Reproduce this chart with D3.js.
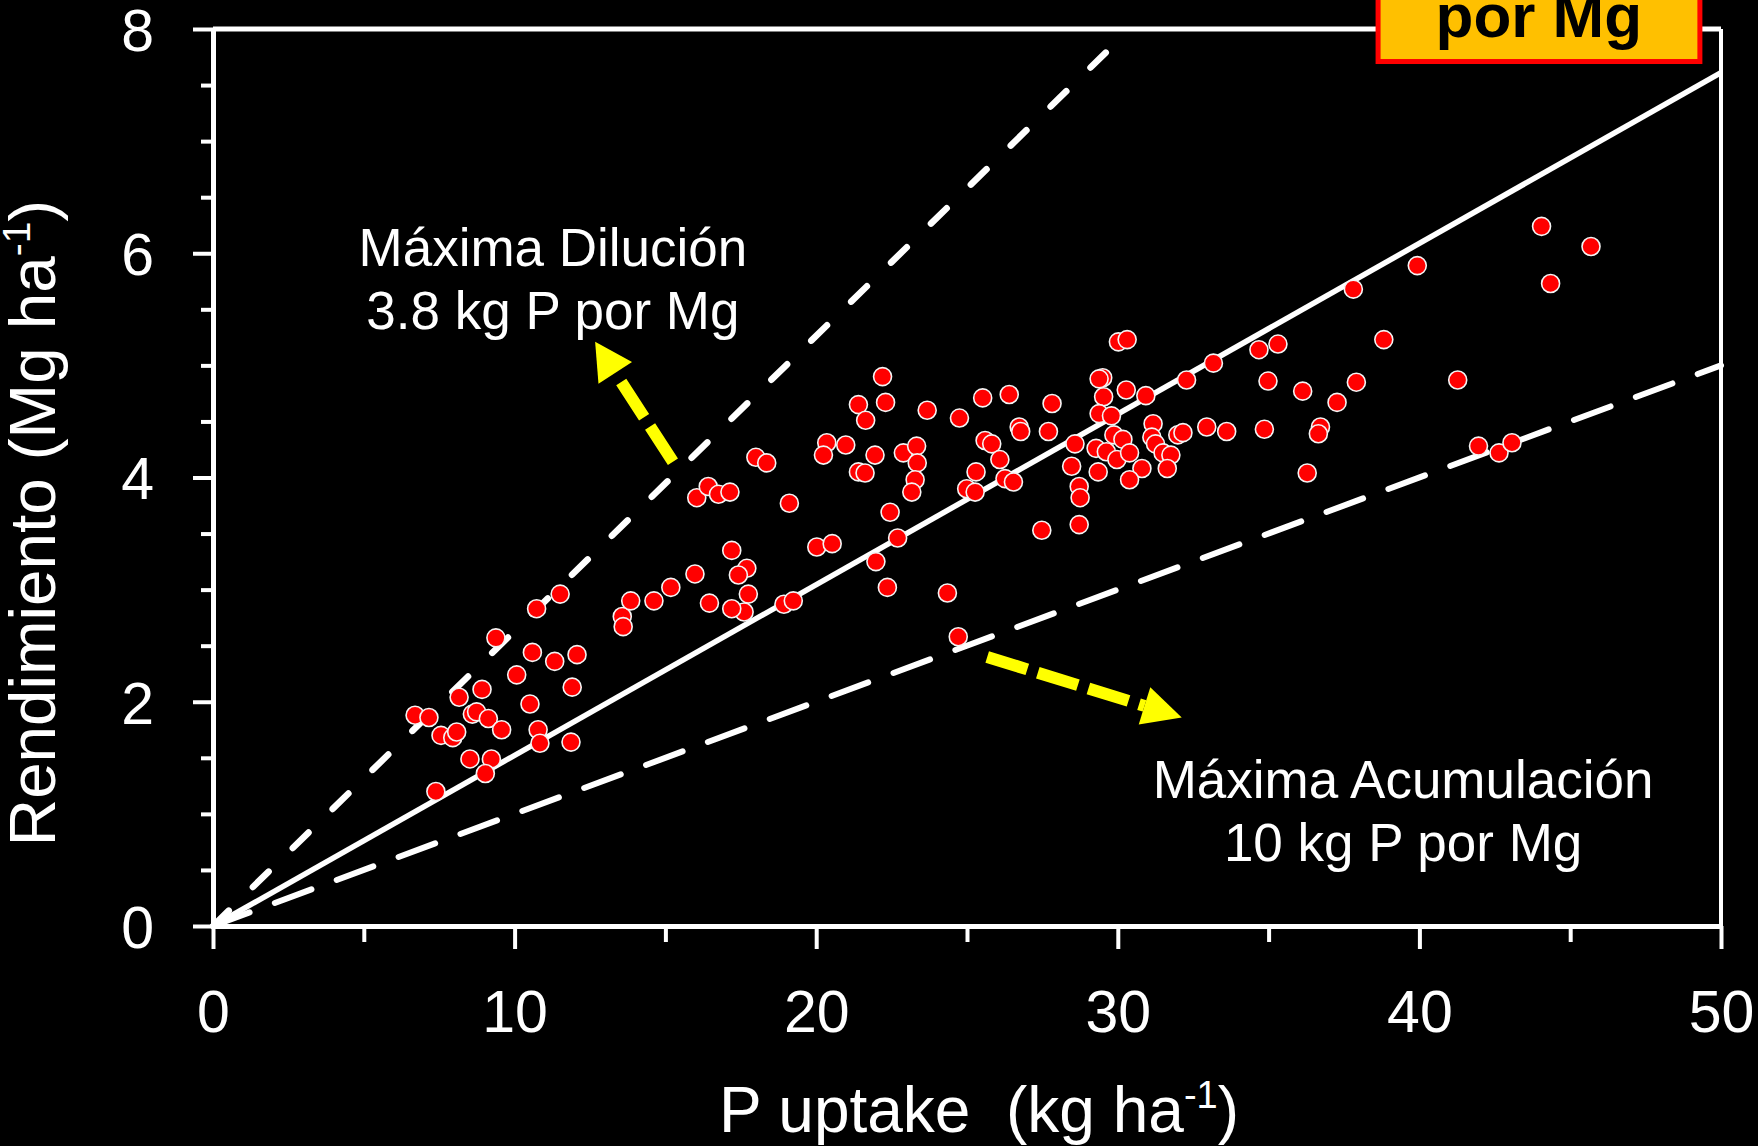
<!DOCTYPE html>
<html>
<head>
<meta charset="utf-8">
<script src="https://cdn.jsdelivr.net/npm/d3@7"></script>
<style>
  html, body { margin: 0; padding: 0; background: #000; }
  svg { display: block; }
</style>
</head>
<body>
<div id="chart"></div>
<script>
// data: P uptake (kg/ha) vs rendimiento (Mg/ha)
const pUptake = [
  6.70, 7.16, 7.56, 7.95, 8.08, 7.39, 8.16, 8.92, 8.60, 8.74,
  9.13, 9.57, 8.52, 9.23, 9.03, 9.38, 10.07, 10.51, 10.59, 11.33,
  12.07, 11.91, 10.73, 11.51, 10.78, 10.84, 11.87, 13.57, 13.60, 13.85,
  14.62, 15.18, 15.98, 16.46, 17.20, 17.70, 17.42, 17.75, 17.61, 17.20,
  18.93, 19.24, 22.20, 21.40, 22.30, 21.64, 23.68, 24.75, 25.52, 26.40,
  27.82, 26.73, 26.78, 27.70, 25.60, 25.82, 26.09, 26.26, 26.54, 25.30,
  24.99, 25.27, 28.58, 28.47, 28.72, 28.75, 27.48, 28.72, 20.35, 20.24,
  20.98, 21.95, 22.89, 23.33, 23.35, 21.40, 21.62, 23.28, 23.17, 18.00,
  18.36, 16.04, 16.42, 16.76, 17.14, 19.11, 22.45, 22.70, 21.98, 22.36,
  20.02, 20.53, 24.35, 24.71, 30.02, 30.31, 34.68, 35.31, 38.82, 33.17,
  32.28, 34.98, 36.13, 37.91, 37.27, 41.27, 29.50, 29.38, 29.53, 30.28,
  30.93, 29.38, 29.79, 31.17, 31.99, 32.16, 32.95, 33.61, 34.86, 36.72,
  36.65, 29.87, 30.17, 29.28, 29.62, 29.97, 30.39, 31.13, 31.25, 31.50,
  31.76, 31.64, 30.80, 30.39, 29.35, 36.28, 41.96, 42.64, 43.07, 39.93,
  37.81, 44.05, 44.35, 45.69
];
const rendimiento = [
  1.88, 1.86, 1.70, 1.68, 1.73, 1.20, 2.04, 2.11, 1.89, 1.91,
  1.85, 1.75, 1.49, 1.49, 1.36, 2.57, 2.24, 1.98, 2.44, 2.36,
  2.42, 2.13, 2.83, 2.96, 1.75, 1.63, 1.64, 2.76, 2.67, 2.90,
  2.90, 3.02, 3.14, 2.88, 3.35, 3.19, 3.13, 2.96, 2.80, 2.83,
  2.87, 2.90, 4.90, 4.65, 4.67, 4.51, 4.60, 4.53, 4.71, 4.74,
  4.66, 4.45, 4.41, 4.41, 4.33, 4.30, 4.16, 3.99, 3.96, 4.05,
  3.90, 3.87, 4.30, 4.10, 3.92, 3.82, 3.53, 3.58, 4.31, 4.20,
  4.29, 4.20, 4.22, 4.28, 4.13, 4.05, 4.04, 3.98, 3.87, 4.18,
  4.13, 3.82, 3.92, 3.85, 3.87, 3.77, 3.69, 3.46, 3.25, 3.02,
  3.38, 3.41, 2.97, 2.58, 5.21, 5.23, 5.14, 5.19, 5.23, 5.02,
  4.87, 4.86, 4.77, 4.85, 4.67, 4.87, 4.89, 4.88, 4.72, 4.78,
  4.73, 4.57, 4.55, 4.48, 4.38, 4.40, 4.45, 4.41, 4.43, 4.45,
  4.39, 4.38, 4.34, 4.26, 4.23, 4.16, 4.22, 4.36, 4.30, 4.22,
  4.20, 4.08, 4.08, 3.98, 4.05, 4.04, 4.28, 4.22, 4.31, 5.89,
  5.68, 6.24, 5.73, 6.06
];

// reference lines: yield = uptake / (kg P per Mg)
const kgPporMg = [3.8, 6.57, 10];
const lineEndX = [29.6, 50, 50];

const xTicksMajor = [0, 10, 20, 30, 40, 50];
const xTicksMinor = [5, 15, 25, 35, 45];
const yTicksMajor = [0, 2, 4, 6, 8];
const yTicksMinor = [0.5, 1, 1.5, 2.5, 3, 3.5, 4.5, 5, 5.5, 6.5, 7, 7.5];

const width = 1758;
const height = 1146;
const font = "'Liberation Sans', Arial, sans-serif";

const x = d3.scaleLinear().domain([0, 50]).range([213, 1721]);
const y = d3.scaleLinear().domain([0, 8]).range([926, 29]);

const svg = d3.select("#chart").append("svg")
  .attr("width", width)
  .attr("height", height)
  .attr("font-family", font)
  .style("background", "#000");

svg.append("rect").attr("width", width).attr("height", height).attr("fill", "#000");

// top and right frame
svg.append("line")
  .attr("x1", x(0)).attr("y1", y(8)).attr("x2", x(50)).attr("y2", y(8))
  .attr("stroke", "#fff").attr("stroke-width", 5);
svg.append("line")
  .attr("x1", x(50)).attr("y1", y(8)).attr("x2", x(50)).attr("y2", y(0))
  .attr("stroke", "#fff").attr("stroke-width", 4);

// axes
const styleAxis = (g) => {
  g.select(".domain").attr("stroke", "#fff").attr("stroke-width", 5);
  g.selectAll(".tick line").attr("stroke", "#fff").attr("stroke-width", 4);
  g.selectAll(".tick text").attr("fill", "#fff").attr("font-size", 59).attr("font-family", font);
};

svg.append("g")
  .attr("transform", `translate(0,${y(0)})`)
  .call(d3.axisBottom(x).tickValues(xTicksMinor).tickSize(16).tickSizeOuter(0).tickFormat(""))
  .call(g => g.select(".domain").remove())
  .call(g => g.selectAll(".tick line").attr("stroke", "#fff").attr("stroke-width", 4));

svg.append("g")
  .attr("transform", `translate(${x(0)},0)`)
  .call(d3.axisLeft(y).tickValues(yTicksMinor).tickSize(12).tickSizeOuter(0).tickFormat(""))
  .call(g => g.select(".domain").remove())
  .call(g => g.selectAll(".tick line").attr("stroke", "#fff").attr("stroke-width", 4));

svg.append("g")
  .attr("transform", `translate(0,${y(0)})`)
  .call(d3.axisBottom(x).tickValues(xTicksMajor).tickSize(23).tickSizeOuter(0))
  .call(styleAxis)
  .call(g => g.selectAll(".tick text").attr("y", 106).attr("dy", null));

svg.append("g")
  .attr("transform", `translate(${x(0)},0)`)
  .call(d3.axisLeft(y).tickValues(yTicksMajor).tickSize(20).tickSizeOuter(0))
  .call(styleAxis)
  .call(g => g.selectAll(".tick text").attr("x", -59).attr("dy", "0.36em"));

// axis titles
const xTitle = svg.append("text")
  .attr("x", 979).attr("y", 1132)
  .attr("text-anchor", "middle")
  .attr("fill", "#fff").attr("font-size", 64)
  .style("white-space", "pre");
xTitle.append("tspan").text("P uptake  (kg ha");
xTitle.append("tspan").attr("font-size", 38).attr("dy", -24).text("-1");
xTitle.append("tspan").attr("dy", 24).text(")");

const yTitle = svg.append("text")
  .attr("transform", "translate(55,523) rotate(-90)")
  .attr("text-anchor", "middle")
  .attr("fill", "#fff").attr("font-size", 65.5)
  .style("white-space", "pre");
yTitle.append("tspan").text("Rendimiento (Mg ha");
yTitle.append("tspan").attr("font-size", 39).attr("dy", -25).text("-1");
yTitle.append("tspan").attr("dy", 25).text(")");

// reference lines
const lineStyles = [
  { width: 6.5, dash: "22 33.8", cap: "round" },
  { width: 5.5, dash: null, cap: "butt" },
  { width: 6, dash: "39 27", cap: "round" }
];
const lineGen = d3.line().x(d => x(d[0])).y(d => y(d[1]));
svg.append("g")
  .selectAll("path")
  .data(kgPporMg)
  .join("path")
  .attr("d", (k, i) => lineGen([[0, 0], [lineEndX[i], lineEndX[i] / k]]))
  .attr("fill", "none")
  .attr("stroke", "#fff")
  .attr("stroke-width", (k, i) => lineStyles[i].width)
  .attr("stroke-dasharray", (k, i) => lineStyles[i].dash)
  .attr("stroke-linecap", (k, i) => lineStyles[i].cap);

// points
svg.append("g")
  .selectAll("circle")
  .data(d3.range(pUptake.length))
  .join("circle")
  .attr("cx", i => x(pUptake[i]))
  .attr("cy", i => y(rendimiento[i]))
  .attr("r", 9)
  .attr("fill", "#ff0000")
  .attr("stroke", "#f4f4f4")
  .attr("stroke-width", 1.6);

// yellow dashed arrows (data units)
const arrowFrom = [[15.25, 4.14], [25.67, 2.40]];
const arrowTo = [[12.67, 5.21], [32.12, 1.86]];
const arrowHead = [{ len: 37, half: 20 }, { len: 39, half: 19.5 }];

arrowFrom.forEach((from, i) => {
  const sx = x(from[0]), sy = y(from[1]);
  const tx = x(arrowTo[i][0]), ty = y(arrowTo[i][1]);
  const len = Math.hypot(tx - sx, ty - sy);
  const ux = (tx - sx) / len, uy = (ty - sy) / len;
  const bx = tx - ux * arrowHead[i].len, by = ty - uy * arrowHead[i].len;
  const h = arrowHead[i].half;
  svg.append("line")
    .attr("x1", sx).attr("y1", sy).attr("x2", bx).attr("y2", by)
    .attr("stroke", "#ffff00").attr("stroke-width", 12)
    .attr("stroke-dasharray", "42 11");
  svg.append("polygon")
    .attr("points", [[tx, ty], [bx - uy * h, by + ux * h], [bx + uy * h, by - ux * h]].map(p => p.join(",")).join(" "))
    .attr("fill", "#ffff00");
});

// annotations
const noteLines = [["Máxima Dilución", "3.8 kg P por Mg"], ["Máxima Acumulación", "10 kg P por Mg"]];
const noteX = [11.27, 39.46];
const noteY = [[5.89, 5.32], [1.14, 0.58]];
noteLines.forEach((lines, i) => {
  svg.append("g")
    .selectAll("text")
    .data(lines)
    .join("text")
    .attr("x", x(noteX[i]))
    .attr("y", (d, j) => y(noteY[i][j]))
    .attr("text-anchor", "middle")
    .attr("fill", "#fff")
    .attr("font-size", 53)
    .text(d => d);
});

// orange box at top right (cut off by the top edge)
svg.append("rect")
  .attr("x", x(38.63)).attr("y", y(8.9))
  .attr("width", x(49.30) - x(38.63)).attr("height", y(7.71) - y(8.9))
  .attr("fill", "#ffc000")
  .attr("stroke", "#ff0000").attr("stroke-width", 5);
svg.append("text")
  .attr("x", x(43.96)).attr("y", y(7.93))
  .attr("text-anchor", "middle")
  .attr("fill", "#000").attr("font-size", 62).attr("font-weight", "bold")
  .text("por Mg");
</script>
</body>
</html>
